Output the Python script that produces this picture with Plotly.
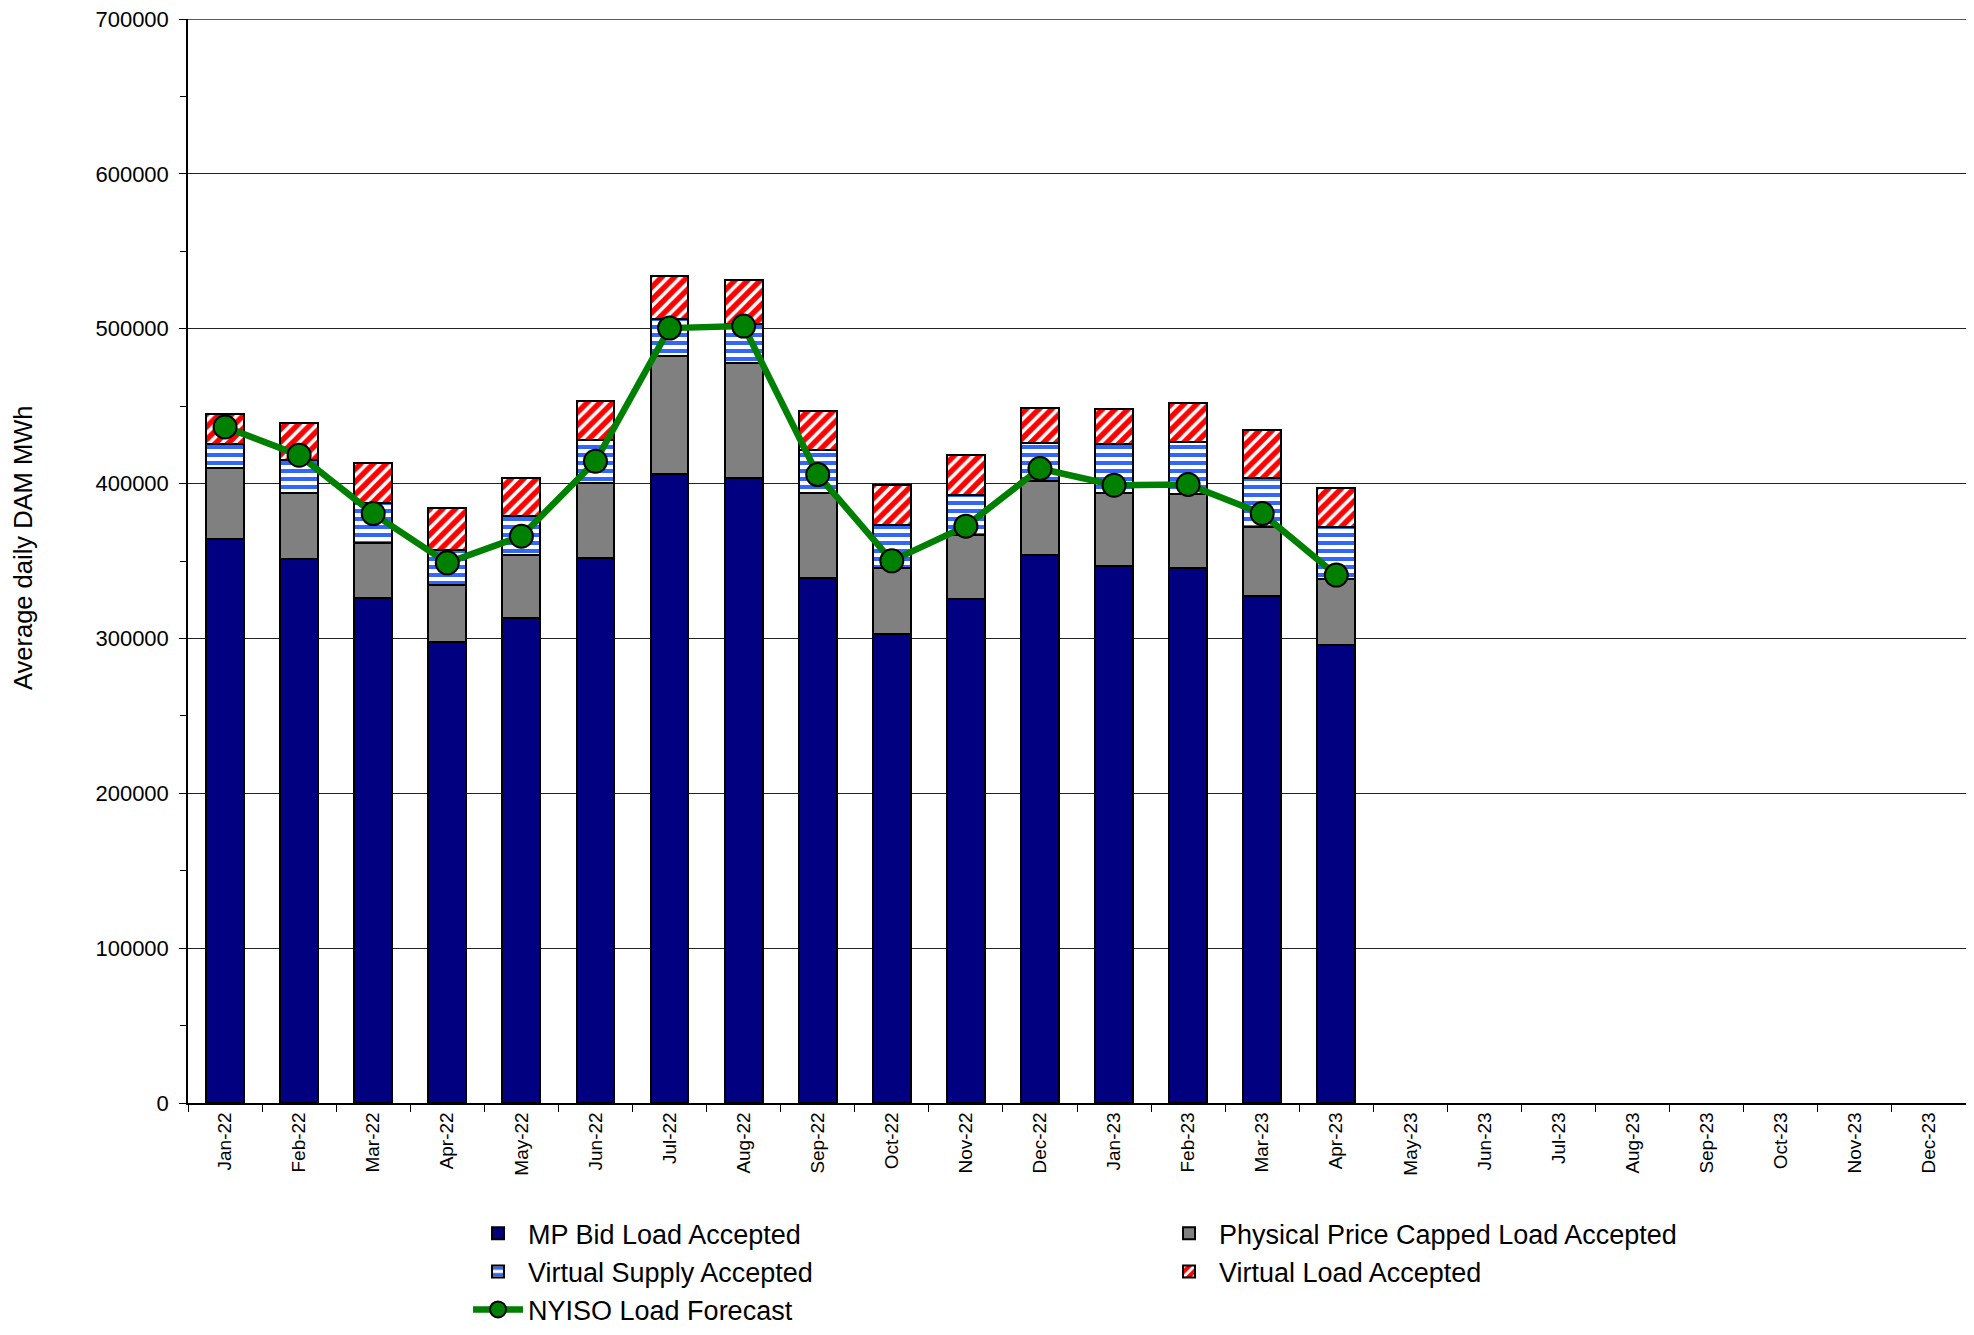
import plotly.graph_objects as go

months = ["Jan-22", "Feb-22", "Mar-22", "Apr-22", "May-22", "Jun-22", "Jul-22", "Aug-22",
          "Sep-22", "Oct-22", "Nov-22", "Dec-22", "Jan-23", "Feb-23", "Mar-23", "Apr-23",
          "May-23", "Jun-23", "Jul-23", "Aug-23", "Sep-23", "Oct-23", "Nov-23", "Dec-23"]

mp_bid_load = [364300, 351000, 326200, 297400, 313500, 351800, 406000, 403700,
               339100, 302600, 325400, 353800, 346700, 345600, 327300, 295700,
               None, None, None, None, None, None, None, None]
phys_price_capped = [46000, 43000, 35700, 37200, 40700, 48800, 76200, 74400,
                     54900, 43000, 41700, 47700, 47300, 47500, 44700, 42400,
                     None, None, None, None, None, None, None, None]
virtual_supply = [15100, 21500, 25600, 22400, 24900, 27800, 24300, 24700,
                  27500, 27900, 25400, 24700, 31400, 33800, 31900, 33900,
                  None, None, None, None, None, None, None, None]
virtual_load = [19300, 23600, 26000, 27100, 24600, 24900, 27300, 28400,
                25200, 25400, 25800, 22600, 23000, 25400, 30900, 25000,
                None, None, None, None, None, None, None, None]
load_forecast = [436600, 418300, 380600, 348800, 366000, 414400, 500400, 501700,
                 405800, 350100, 372500, 409700, 398900, 399400, 380600, 340900,
                 None, None, None, None, None, None, None, None]

y_ticks = [0, 100000, 200000, 300000, 400000, 500000, 600000, 700000]
y_max = 700000

FONT = "Liberation Sans, Arial, sans-serif"
outline = dict(color="black", width=2)

fig = go.Figure()
fig.add_trace(go.Bar(x=months, y=mp_bid_load, name="MP Bid Load Accepted",
                     marker=dict(color="#000080", line=outline)))
fig.add_trace(go.Bar(x=months, y=phys_price_capped, name="Physical Price Capped Load Accepted",
                     marker=dict(color="#808080", line=outline)))
fig.add_trace(go.Bar(x=months, y=virtual_supply, name="Virtual Supply Accepted",
                     marker=dict(color="white", line=outline,
                                 pattern=dict(shape="-", fgcolor="#3366FF", bgcolor="white",
                                              fgopacity=1, size=8, solidity=0.5,
                                              fillmode="replace"))))
fig.add_trace(go.Bar(x=months, y=virtual_load, name="Virtual Load Accepted",
                     marker=dict(color="#FF0000", line=outline,
                                 pattern=dict(shape="/", fgcolor="white", bgcolor="#FF0000",
                                              fgopacity=1, size=9, solidity=0.4,
                                              fillmode="replace"))))
fig.add_trace(go.Scatter(x=months, y=load_forecast, name="NYISO Load Forecast",
                         mode="lines+markers",
                         line=dict(color="#008000", width=6.5),
                         marker=dict(color="#008000", size=23,
                                     line=dict(color="black", width=2))))

fig.update_layout(
    width=1958, height=1319,
    barmode="stack", bargap=0.49,
    plot_bgcolor="white", paper_bgcolor="white",
    margin=dict(l=180, r=0, t=11, b=224, autoexpand=False),
    font=dict(family=FONT, color="black", size=21),
    showlegend=True,
    legend=dict(orientation="h", x=0.1575, y=-0.098, xanchor="left", yanchor="top",
                font=dict(family=FONT, size=27, color="black"),
                traceorder="normal", entrywidth=626, entrywidthmode="pixels",
                itemwidth=50, bgcolor="rgba(0,0,0,0)"),
    annotations=[dict(text="Average daily DAM MWh", textangle=-90, showarrow=False,
                      xref="paper", yref="paper", x=-0.0928, y=0.512,
                      xanchor="center", yanchor="middle",
                      font=dict(family=FONT, size=25.5, color="black"))],
    shapes=[dict(type="line", xref="paper", yref="y", x0=0, x1=1, y0=y_max, y1=y_max,
                 line=dict(color="#222222", width=1.5), layer="below")],
)

fig.update_xaxes(type="category", range=[-0.5, len(months) - 0.5],
                 showline=True, linecolor="black", linewidth=1.5,
                 ticks="outside", tickson="boundaries", ticklen=7, tickcolor="black",
                 tickangle=-90, tickfont=dict(family=FONT, size=19, color="black"),
                 showgrid=False, zeroline=False, automargin=False)
fig.update_yaxes(range=[0, y_max], tickvals=y_ticks, ticktext=[str(v) for v in y_ticks],
                 showline=True, linecolor="black", linewidth=1.5,
                 ticks="outside", ticklen=7, tickcolor="black", ticklabelstandoff=6,
                 ticklabeloverflow="allow",
                 minor=dict(dtick=50000, tick0=0, ticks="outside", ticklen=6, tickcolor="black",
                            showgrid=False),
                 showgrid=True, gridcolor="#222222", gridwidth=1, zeroline=False,
                 tickfont=dict(family=FONT, size=22, color="black"), automargin=False)

fig.write_html("out.html")
